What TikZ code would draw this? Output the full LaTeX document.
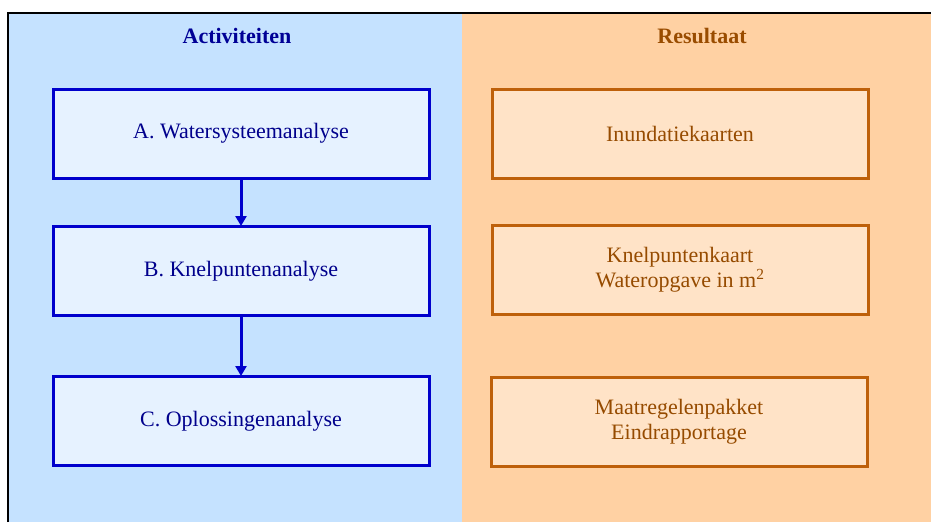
\documentclass[tikz,border=0pt]{standalone}
\usepackage{fontspec}
\setmainfont{Liberation Serif}
\usetikzlibrary{arrows.meta}
\definecolor{bluebg}{RGB}{197,226,255}
\definecolor{bluefill}{RGB}{230,242,255}
\definecolor{blueline}{RGB}{0,0,204}
\definecolor{bluetext}{RGB}{0,0,140}
\definecolor{bluetitle}{RGB}{0,0,150}
\definecolor{orangebg}{RGB}{255,209,163}
\definecolor{orangefill}{RGB}{255,227,199}
\definecolor{orangeline}{RGB}{190,96,10}
\definecolor{orangetext}{RGB}{150,75,0}
\definecolor{orangetitle}{RGB}{153,76,0}
\tikzset{
  actbox/.style={draw=blueline, line width=3pt, fill=bluefill, minimum width=376pt, minimum height=89pt, inner sep=0pt, text=bluetext, font=\fontsize{22}{26}\selectfont, align=center},
  resbox/.style={draw=orangeline, line width=3pt, fill=orangefill, minimum width=376pt, minimum height=89pt, inner sep=0pt, text=orangetext, font=\fontsize{22}{25}\selectfont, align=center},
  title/.style={font=\fontsize{22}{25}\selectfont\bfseries, inner sep=0pt},
  flow/.style={draw=blueline, line width=3pt, -{Triangle[width=11pt,length=10pt]}, shorten >=-1pt}
}
\begin{document}
\begin{tikzpicture}[x=1pt,y=-1pt]
\useasboundingbox (0,0) rectangle (931,522);
\fill[bluebg] (8,13) rectangle (462,522);
\fill[orangebg] (462,13) rectangle (931,522);
\draw[black, line width=2pt] (8,522) -- (8,13) -- (931,13);
\node[title, text=bluetitle] (t1) at (237,36) {Activiteiten};
\node[title, text=orangetitle] (t2) at (702,36) {Resultaat};
\node[actbox] (a) at (241,133.5) {A. Watersysteemanalyse};
\node[actbox] (b) at (241,271) {B. Knelpuntenanalyse};
\node[actbox] (c) at (241,421) {C. Oplossingenanalyse};
\node[resbox] (r1) at (680,133.5) {Inundatiekaarten};
\node[resbox] (r2) at (680,269.5) {Knelpuntenkaart\\Wateropgave in m\textsuperscript{2}};
\node[resbox] (r3) at (679,421.5) {Maatregelenpakket\\Eindrapportage};
\draw[flow] (a) -- (b);
\draw[flow] (b) -- (c);
\end{tikzpicture}
\end{document}
